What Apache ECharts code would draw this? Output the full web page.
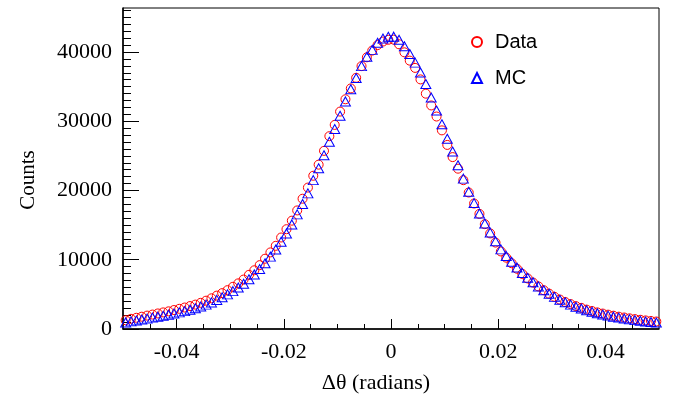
<!DOCTYPE html>
<html>
<head>
<meta charset="utf-8">
<script src="https://cdn.jsdelivr.net/npm/echarts@6/dist/echarts.min.js"></script>
<style>
  html, body { margin: 0; padding: 0; background: #fff; }
  #chart { width: 675px; height: 397px; }
</style>
</head>
<body>
<div id="chart"></div>
<script>
// Histogram binning: 100 bins from -0.05 to 0.05
const BIN_LOW = -0.05;
const BIN_WIDTH = 0.001;

// Data counts per bin
const dataCounts = [
  1270, 1470, 1620, 1775, 1935, 2085, 2245, 2395, 2550, 2740,
  2915, 3100, 3310, 3520, 3780, 4090, 4430, 4820, 5180, 5610,
  6090, 6590, 7140, 7820, 8480, 9220, 10150, 11060, 12010, 13210,
  14410, 15640, 17120, 18810, 20420, 22130, 23730, 25720, 27840, 29470,
  31390, 33170, 34740, 36270, 37960, 39230, 40200, 41000, 41510, 41760,
  41780, 41110, 39950, 38750, 37700, 36040, 33980, 32280, 30680, 28680,
  26580, 24820, 23150, 21490, 19710, 18120, 16620, 15140, 13800, 12480,
  11200, 10300, 9500, 8700, 7950, 7300, 6700, 6150, 5600, 5100,
  4650, 4250, 3900, 3600, 3300, 3050, 2800, 2600, 2400, 2230,
  2070, 1920, 1780, 1660, 1540, 1430, 1330, 1240, 1160, 1080
];

// MC counts per bin
const mcCounts = [
  950, 1100, 1230, 1360, 1500, 1640, 1780, 1920, 2070, 2230,
  2400, 2580, 2780, 3000, 3240, 3520, 3840, 4200, 4580, 5000,
  5470, 5980, 6540, 7180, 7880, 8650, 9500, 10450, 11480, 12600,
  13800, 15100, 16550, 18050, 19580, 21500, 23210, 25080, 27040, 28870,
  30790, 32860, 34620, 36250, 37960, 39320, 40300, 41320, 41950, 42190,
  42210, 41760, 40830, 39700, 38460, 37030, 35370, 33420, 31540, 29570,
  27470, 25620, 23650, 21710, 19810, 18180, 16670, 15230, 13920, 12660,
  11500, 10550, 9700, 8880, 8100, 7400, 6750, 6150, 5600, 5100,
  4640, 4220, 3850, 3520, 3220, 2950, 2700, 2480, 2280, 2100,
  1930, 1780, 1640, 1510, 1390, 1280, 1180, 1090, 1010, 940
];

const xTickLabels = [-0.04, -0.02, 0, 0.02, 0.04];
const xMinorTicks = [-0.045, -0.035, -0.03, -0.025, -0.015, -0.01, -0.005,
                     0.005, 0.01, 0.015, 0.025, 0.03, 0.035, 0.045];
const yTickLabels = [0, 10000, 20000, 30000, 40000];
const yMinorTicks = [];
for (let v = 1000; v <= 46000; v += 1000) { if (v % 10000 !== 0) yMinorTicks.push(v); }

const X_MIN = -0.05, X_MAX = 0.05, Y_MIN = 0, Y_MAX = 46350;

function toPoints(arr) {
  return arr.map((v, i) => [+(BIN_LOW + BIN_WIDTH * (i + 0.5)).toFixed(4), v]);
}

const serif = 'Liberation Serif';
const sans = 'Liberation Sans';

const chart = echarts.init(document.getElementById('chart'), null, { renderer: 'canvas' });
chart.setOption({
  animation: false,
  backgroundColor: '#fff',
  grid: {
    left: 123, right: 16, top: 8, bottom: 68,
    show: true, borderColor: '#000', borderWidth: 1, backgroundColor: 'transparent'
  },
  legend: {
    orient: 'vertical',
    left: 466, top: 27,
    itemGap: 16,
    itemWidth: 10, itemHeight: 10,
    textStyle: { fontFamily: sans, fontSize: 20, color: '#000', padding: [0, 0, 0, 8] },
    data: ['Data', 'MC']
  },
  xAxis: [
    {
      type: 'value', min: X_MIN, max: X_MAX, position: 'bottom',
      axisLine: { onZero: false, lineStyle: { color: '#000', width: 1.5 } },
      axisTick: { inside: true, length: 10, customValues: xTickLabels, lineStyle: { color: '#000', width: 1 } },
      axisLabel: { customValues: xTickLabels, fontFamily: serif, fontSize: 22, color: '#000', margin: 12,
                   formatter: v => String(v) },
      splitLine: { show: false }
    },
    {
      type: 'value', min: X_MIN, max: X_MAX, position: 'bottom',
      axisLine: { show: false, onZero: false },
      axisTick: { inside: true, length: 5, customValues: xMinorTicks, lineStyle: { color: '#000', width: 1 } },
      axisLabel: { show: false },
      splitLine: { show: false }
    }
  ],
  yAxis: [
    {
      type: 'value', min: Y_MIN, max: Y_MAX, position: 'left',
      axisLine: { show: true, onZero: false, lineStyle: { color: '#000', width: 1.5 } },
      axisTick: { show: true, inside: true, length: 16, customValues: yTickLabels, lineStyle: { color: '#000', width: 1 } },
      axisLabel: { customValues: yTickLabels, fontFamily: serif, fontSize: 22, color: '#000', margin: 11,
                   formatter: v => String(v) },
      splitLine: { show: false }
    },
    {
      type: 'value', min: Y_MIN, max: Y_MAX, position: 'left',
      axisLine: { show: false, onZero: false },
      axisTick: { show: true, inside: true, length: 8, customValues: yMinorTicks, lineStyle: { color: '#000', width: 1 } },
      axisLabel: { show: false },
      splitLine: { show: false }
    }
  ],
  graphic: [
    {
      type: 'text', x: 28, y: 180, rotation: Math.PI / 2,
      style: { text: 'Counts', fontFamily: serif, fontSize: 21, fill: '#000', align: 'center', verticalAlign: 'middle' }
    },
    {
      type: 'text', x: 376, y: 383,
      style: { text: 'Δθ (radians)', fontFamily: serif, fontSize: 22, fill: '#000', align: 'center', verticalAlign: 'middle' }
    }
  ],
  series: [
    {
      name: 'Data', type: 'scatter', xAxisIndex: 0, yAxisIndex: 0,
      symbol: 'circle', symbolSize: 9,
      itemStyle: { color: 'rgba(255,255,255,0)', borderColor: '#ff0000', borderWidth: 1, opacity: 1 },
      data: toPoints(dataCounts)
    },
    {
      name: 'MC', type: 'scatter', xAxisIndex: 0, yAxisIndex: 0,
      symbol: 'triangle', symbolSize: [10, 9],
      itemStyle: { color: 'rgba(255,255,255,0)', borderColor: '#0000ff', borderWidth: 1, opacity: 1 },
      data: toPoints(mcCounts)
    }
  ]
});
</script>
</body>
</html>
